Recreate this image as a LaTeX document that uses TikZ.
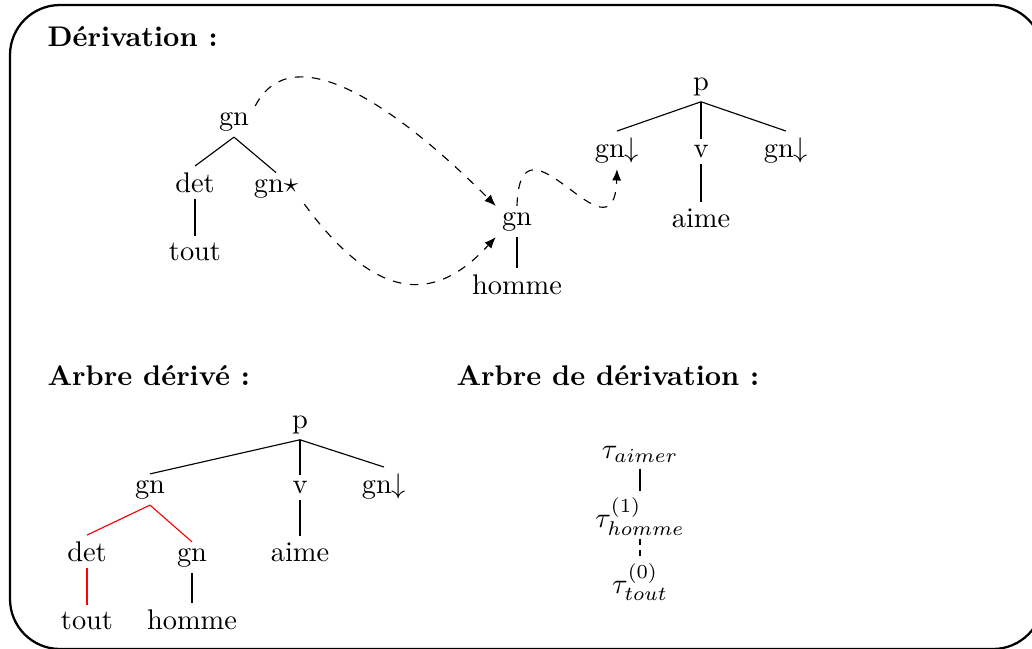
\documentclass[tikz,border=0pt]{standalone}
\usepackage{fontspec}
\usepackage{amsmath}
\usetikzlibrary{arrows.meta}

\begin{document}
\begin{tikzpicture}[x=0.3521pt, y=-0.3521pt]
        % Trees of the derivation (pixel-like grid, y downwards)
        \tikzset{
          cat/.style={anchor=base, inner sep=2pt},
          tau/.style={anchor=base, inner sep=0pt},
          title/.style={anchor=base west, inner sep=0pt, font=\bfseries},
          branch/.style={black},
          adjbranch/.style={red},
          subst/.style={dashed, -{Latex[length=4pt, width=3.2pt]}},
          frame/.style={thick, rounded corners=17.6pt}
        }
        \useasboundingbox (0,0) rectangle (1032,648);
        \draw[frame] (10,5) rectangle (1043,649);

        % Titles
        \node[title] (tDeriv) at (47,46) {Dérivation :};
        \node[title] (tDerive) at (47,385) {Arbre dérivé :};
        \node[title] (tArbreDeriv) at (456,385) {Arbre de dérivation :};

        % Auxiliary tree (tout)
        \node[cat] (gnA) at (234,125) {gn};
        \node[cat] (detA) at (195,192) {det};
        \node[cat] (gnStar) at (276,192) {gn$\star$};
        \node[cat] (toutA) at (195,260) {tout};

        % Initial tree (homme)
        \node[cat] (gnH) at (517,225) {gn};
        \node[cat] (hommeH) at (517,294) {homme};

        % Initial tree (aimer)
        \node[cat] (pV) at (701,90) {p};
        \node[cat] (gnSubj) at (617,157) {gn$\downarrow$};
        \node[cat] (vV) at (701,157) {v};
        \node[cat] (gnObj) at (786,157) {gn$\downarrow$};
        \node[cat] (aimeV) at (701,227) {aime};

        % Branches
        \draw[branch] (gnA.south) -- (detA.north);
        \draw[branch] (gnA.south) -- (gnStar.north);
        \draw[branch] (detA.south) -- (toutA.north);
        \draw[branch] (gnH.south) -- (hommeH.north);
        \draw[branch] (pV.south) -- (gnSubj.north);
        \draw[branch] (pV.south) -- (vV.north);
        \draw[branch] (pV.south) -- (gnObj.north);
        \draw[branch] (vV.south) -- (aimeV.north);

        % Adjunction and substitution
        \draw[subst] (gnA.north east) .. controls (292,35) and (395,105) .. (gnH.north west);
        \draw[subst] (gnStar.south east) .. controls (382,310) and (440,298) .. (gnH.south west);
        \draw[subst] (gnH.north) .. controls (520,100) and (614,270) .. (gnSubj.south);

        % Derived tree
        \node[cat] (pD) at (300,428) {p};
        \node[cat] (gnD) at (150,493) {gn};
        \node[cat] (vD) at (300,493) {v};
        \node[cat] (gnObjD) at (384,493) {gn$\downarrow$};
        \node[cat] (detD) at (87,561) {det};
        \node[cat] (gnHD) at (192,561) {gn};
        \node[cat] (aimeD) at (300,561) {aime};
        \node[cat] (toutD) at (87,629) {tout};
        \node[cat] (hommeD) at (192,629) {homme};

        \draw[branch] (pD.south) -- (gnD.north);
        \draw[branch] (pD.south) -- (vD.north);
        \draw[branch] (pD.south) -- (gnObjD.north);
        \draw[branch] (vD.south) -- (aimeD.north);
        \draw[adjbranch] (gnD.south) -- (detD.north);
        \draw[adjbranch] (gnD.south) -- (gnHD.north);
        \draw[adjbranch] (detD.south) -- (toutD.north);
        \draw[branch] (gnHD.south) -- (hommeD.north);

        % Derivation tree
        \node[tau] (tauAimer) at (640,458) {$\tau_{aimer}$};
        \node[tau] (tauHomme) at (640,527) {$\tau^{(1)}_{homme}$};
        \node[tau] (tauTout) at (640,593) {$\tau^{(0)}_{tout}$};
        \draw[branch] ([yshift=-2pt]tauAimer.south) -- ([yshift=2pt]tauHomme.north);
        \draw[branch, dashed, dash pattern=on 2pt off 2pt] ([yshift=-1pt]tauHomme.south) -- ([yshift=1pt]tauTout.north);
      \end{tikzpicture}
\end{document}
